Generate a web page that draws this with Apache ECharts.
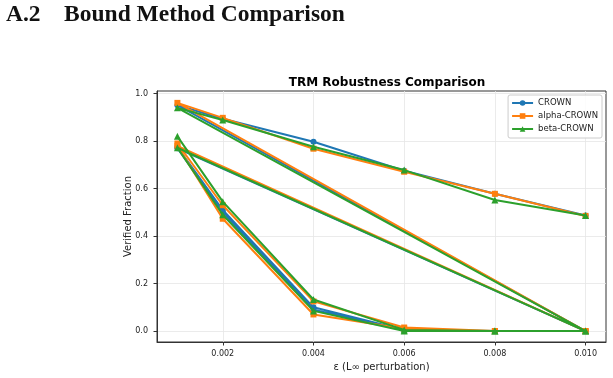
<!DOCTYPE html>
<html>
<head>
<meta charset="utf-8">
<script src="https://cdn.jsdelivr.net/npm/echarts@6/dist/echarts.min.js"></script>
<style>
html,body{margin:0;padding:0;background:#fff;}
#chart{width:613px;height:378px;}
</style>
</head>
<body>
<div id="chart"></div>
<script>
// ---- data ----
const heading = "A.2\u2003Bound Method Comparison";
const chartTitle = "TRM Robustness Comparison";
const seriesNames = ["CROWN", "alpha-CROWN", "beta-CROWN"];
const eps = [0.001, 0.002, 0.004, 0.006, 0.008, 0.010];
const xTicks = [0.002, 0.004, 0.006, 0.008, 0.010];
const yTicks = [0.0, 0.2, 0.4, 0.6, 0.8, 1.0];

// each series is three runs over eps, plotted one after another
const crownRun1 = [0.775, 0.51, 0.100, 0.005, 0.0, 0.0];
const crownRun2 = [0.770, 0.50, 0.090, 0.005, 0.0, 0.0];
const crownRun3 = [0.951, 0.894, 0.797, 0.675, 0.578, 0.487];

const alphaRun1 = [0.790, 0.530, 0.125, 0.015, 0.0, 0.0];
const alphaRun2 = [0.780, 0.473, 0.070, 0.010, 0.0, 0.0];
const alphaRun3 = [0.961, 0.898, 0.768, 0.671, 0.578, 0.485];

const betaRun1 = [0.820, 0.545, 0.133, 0.005, 0.0, 0.0];
const betaRun2 = [0.772, 0.490, 0.085, 0.000, 0.0, 0.0];
const betaRun3 = [0.940, 0.889, 0.776, 0.678, 0.552, 0.487];

const colors = ["#1f77b4", "#ff7f0e", "#2ca02c"];
const symbols = ["circle", "rect", "triangle"];
const symbolSizes = [6, 6, 7];

function pairs(runs) {
  const out = [];
  runs.forEach(r => eps.forEach((x, i) => out.push([x, r[i]])));
  return out;
}
const seriesData = [
  pairs([crownRun1, crownRun2, crownRun3]),
  pairs([alphaRun1, alphaRun2, alphaRun3]),
  pairs([betaRun1, betaRun2, betaRun3])
];

const chart = echarts.init(document.getElementById('chart'), null, {renderer: 'canvas'});
const sansFont = "DejaVu Sans";
const option = {
  animation: false,
  backgroundColor: '#fff',
  title: {
    text: chartTitle,
    left: 382,
    textAlign: 'center',
    top: 72,
    textStyle: {fontFamily: sansFont, fontSize: 12, fontWeight: 'bold', color: '#000'}
  },
  graphic: [{
    type: 'text',
    left: 6,
    top: 3,
    style: {
      text: heading,
      font: 'bold 23.5px "Liberation Serif"',
      fill: '#111'
    }
  }],
  legend: {
    orient: 'vertical',
    right: 11,
    top: 95,
    data: seriesNames,
    itemWidth: 21,
    itemHeight: 7,
    itemGap: 3,
    padding: [3, 4, 4, 3],
    backgroundColor: 'rgba(255,255,255,0.85)',
    borderColor: '#cccccc',
    borderWidth: 1,
    borderRadius: 2,
    textStyle: {fontFamily: sansFont, fontSize: 8.5, color: '#222', lineHeight: 10}
  },
  grid: {
    left: 157, right: 7, top: 91, bottom: 36,
    show: true, borderColor: '#333', borderWidth: 1, containLabel: false
  },
  xAxis: {
    type: 'value',
    min: 0.00055,
    max: 0.01045,
    name: 'ε (L∞ perturbation)',
    nameLocation: 'middle',
    nameGap: 19,
    nameTextStyle: {fontFamily: sansFont, fontSize: 10, color: '#222'},
    axisLine: {show: true, onZero: false, lineStyle: {color: '#333', width: 1}},
    axisTick: {show: true, length: 3.5, inside: false, customValues: xTicks, lineStyle: {color: '#333'}},
    axisLabel: {customValues: xTicks, margin: 8, fontFamily: sansFont, fontSize: 8, color: '#222',
      formatter: v => v.toFixed(3)},
    splitLine: {show: true, lineStyle: {color: '#e6e6e6', width: 0.8}}
  },
  yAxis: {
    type: 'value',
    min: -0.046,
    max: 1.011,
    name: 'Verified Fraction',
    nameLocation: 'middle',
    nameGap: 24,
    nameMoveOverlap: false,
    nameTextStyle: {fontFamily: sansFont, fontSize: 10, color: '#222'},
    axisLine: {show: true, onZero: false, lineStyle: {color: '#333', width: 1}},
    axisTick: {show: true, length: 3.5, customValues: yTicks, lineStyle: {color: '#333'}},
    axisLabel: {customValues: yTicks, margin: 9, fontFamily: sansFont, fontSize: 8, color: '#222',
      formatter: v => v.toFixed(1)},
    splitLine: {show: true, lineStyle: {color: '#e6e6e6', width: 0.8}}
  },
  series: seriesNames.map((name, k) => ({
    name: name,
    type: 'line',
    data: seriesData[k],
    color: colors[k],
    symbol: symbols[k],
    symbolSize: symbolSizes[k],
    showSymbol: true,
    showAllSymbol: true,
    lineStyle: {width: 2, color: colors[k]},
    itemStyle: {color: colors[k]},
    z: 2 + k
  }))
};
chart.setOption(option);
</script>
</body>
</html>
